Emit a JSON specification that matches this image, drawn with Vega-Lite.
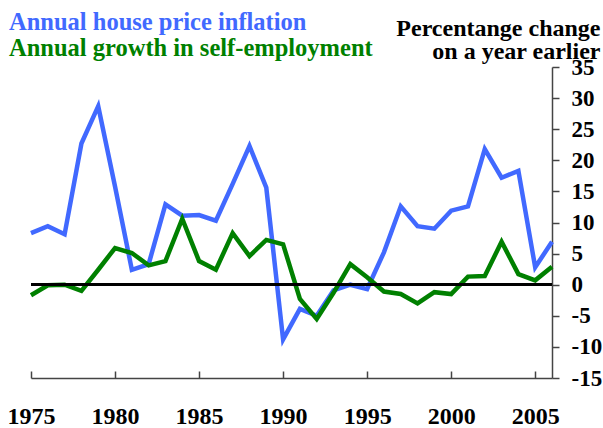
{
  "$schema": "https://vega.github.io/schema/vega-lite/v6.json",
  "width": 521,
  "height": 311,
  "autosize": "none",
  "padding": {"left": 31, "top": 67, "right": 51, "bottom": 50},
  "background": "white",
  "config": {"view": {"stroke": null}, "font": "Liberation Serif"},
  "title": {
    "text": "Annual house price inflation",
    "subtitle": "Annual growth in self-employment",
    "anchor": "start",
    "frame": "group",
    "orient": "top",
    "dx": -22,
    "dy": 51,
    "offset": 6,
    "font": "Liberation Serif",
    "fontSize": 24.5,
    "fontWeight": "bold",
    "color": "#4169FF",
    "subtitleFont": "Liberation Serif",
    "subtitleFontSize": 24.5,
    "subtitleFontWeight": "bold",
    "subtitleColor": "#008000",
    "subtitlePadding": 1
  },
  "resolve": {"axis": {"y": "independent", "x": "independent"}},
  "data": {
    "values": [
      {"year": 1975, "series": "house", "value": 8.3},
      {"year": 1976, "series": "house", "value": 9.4},
      {"year": 1977, "series": "house", "value": 8.1},
      {"year": 1978, "series": "house", "value": 22.7},
      {"year": 1979, "series": "house", "value": 28.7},
      {"year": 1980, "series": "house", "value": 15.8},
      {"year": 1981, "series": "house", "value": 2.4},
      {"year": 1982, "series": "house", "value": 3.3},
      {"year": 1983, "series": "house", "value": 12.9},
      {"year": 1984, "series": "house", "value": 11.1},
      {"year": 1985, "series": "house", "value": 11.2},
      {"year": 1986, "series": "house", "value": 10.3},
      {"year": 1987, "series": "house", "value": 16.2},
      {"year": 1988, "series": "house", "value": 22.3},
      {"year": 1989, "series": "house", "value": 15.6},
      {"year": 1990, "series": "house", "value": -8.8},
      {"year": 1991, "series": "house", "value": -3.9},
      {"year": 1992, "series": "house", "value": -5.0},
      {"year": 1993, "series": "house", "value": -0.9},
      {"year": 1994, "series": "house", "value": 0.0},
      {"year": 1995, "series": "house", "value": -0.7},
      {"year": 1996, "series": "house", "value": 5.2},
      {"year": 1997, "series": "house", "value": 12.6},
      {"year": 1998, "series": "house", "value": 9.4},
      {"year": 1999, "series": "house", "value": 9.0},
      {"year": 2000, "series": "house", "value": 11.9},
      {"year": 2001, "series": "house", "value": 12.6},
      {"year": 2002, "series": "house", "value": 21.8},
      {"year": 2003, "series": "house", "value": 17.2},
      {"year": 2004, "series": "house", "value": 18.3},
      {"year": 2005, "series": "house", "value": 2.8},
      {"year": 2006, "series": "house", "value": 6.9},
      {"year": 1975, "series": "self", "value": -1.7},
      {"year": 1976, "series": "self", "value": -0.1},
      {"year": 1977, "series": "self", "value": 0.0},
      {"year": 1978, "series": "self", "value": -1.0},
      {"year": 1979, "series": "self", "value": 2.4},
      {"year": 1980, "series": "self", "value": 5.9},
      {"year": 1981, "series": "self", "value": 5.1},
      {"year": 1982, "series": "self", "value": 3.1},
      {"year": 1983, "series": "self", "value": 3.8},
      {"year": 1984, "series": "self", "value": 10.6},
      {"year": 1985, "series": "self", "value": 3.8},
      {"year": 1986, "series": "self", "value": 2.4},
      {"year": 1987, "series": "self", "value": 8.3},
      {"year": 1988, "series": "self", "value": 4.6},
      {"year": 1989, "series": "self", "value": 7.2},
      {"year": 1990, "series": "self", "value": 6.5},
      {"year": 1991, "series": "self", "value": -2.3},
      {"year": 1992, "series": "self", "value": -5.5},
      {"year": 1993, "series": "self", "value": -1.3},
      {"year": 1994, "series": "self", "value": 3.3},
      {"year": 1995, "series": "self", "value": 1.2},
      {"year": 1996, "series": "self", "value": -1.1},
      {"year": 1997, "series": "self", "value": -1.5},
      {"year": 1998, "series": "self", "value": -3.0},
      {"year": 1999, "series": "self", "value": -1.2},
      {"year": 2000, "series": "self", "value": -1.5},
      {"year": 2001, "series": "self", "value": 1.3},
      {"year": 2002, "series": "self", "value": 1.4},
      {"year": 2003, "series": "self", "value": 6.9},
      {"year": 2004, "series": "self", "value": 1.7},
      {"year": 2005, "series": "self", "value": 0.7},
      {"year": 2006, "series": "self", "value": 2.9}
    ]
  },
  "layer": [
    {
      "mark": {"type": "line", "strokeWidth": 4.5, "strokeJoin": "miter", "strokeCap": "butt"},
      "encoding": {
        "x": {
          "field": "year",
          "type": "quantitative",
          "scale": {"domain": [1975, 2006], "nice": false, "zero": false},
          "axis": {
            "values": [1975, 1980, 1985, 1990, 1995, 2000, 2005],
            "format": "d",
            "title": null,
            "grid": false,
            "domainColor": "#444",
            "domainWidth": 1.5,
            "tickColor": "#444",
            "tickWidth": 1.5,
            "tickSize": -7,
            "labelPadding": 33,
            "labelFont": "Liberation Serif",
            "labelFontSize": 24,
            "labelFontWeight": "bold",
            "labelColor": "black",
            "labelFlush": false,
            "labelOverlap": false
          }
        },
        "y": {
          "field": "value",
          "type": "quantitative",
          "scale": {"domain": [-15, 35], "nice": false, "zero": false},
          "axis": {
            "orient": "right",
            "values": [-15, -10, -5, 0, 5, 10, 15, 20, 25, 30, 35],
            "labelExpr": "replace(datum.label, '−', '-')",
            "grid": false,
            "domainColor": "#444",
            "domainWidth": 1.5,
            "tickColor": "#444",
            "tickWidth": 1.5,
            "tickSize": 7,
            "labelPadding": 12,
            "labelFont": "Liberation Serif",
            "labelFontSize": 23,
            "labelFontWeight": "bold",
            "labelColor": "black",
            "labelAlign": "left",
            "labelBaseline": "middle",
            "labelFlush": false,
            "labelOverlap": false,
            "title": ["Percentange change", "on a year earlier"],
            "titleAngle": 0,
            "titleAlign": "right",
            "titleBaseline": "alphabetic",
            "titleX": 48,
            "titleY": -32,
            "titleFont": "Liberation Serif",
            "titleFontSize": 24,
            "titleFontWeight": "bold",
            "titleColor": "black",
            "titleLineHeight": 23
          }
        },
        "color": {
          "field": "series",
          "type": "nominal",
          "scale": {"domain": ["house", "self"], "range": ["#4169FF", "#008000"]},
          "legend": null
        }
      }
    },
    {
      "mark": {"type": "rule", "color": "black", "strokeWidth": 2},
      "encoding": {"y": {"datum": 0, "type": "quantitative", "axis": null}}
    }
  ]
}
